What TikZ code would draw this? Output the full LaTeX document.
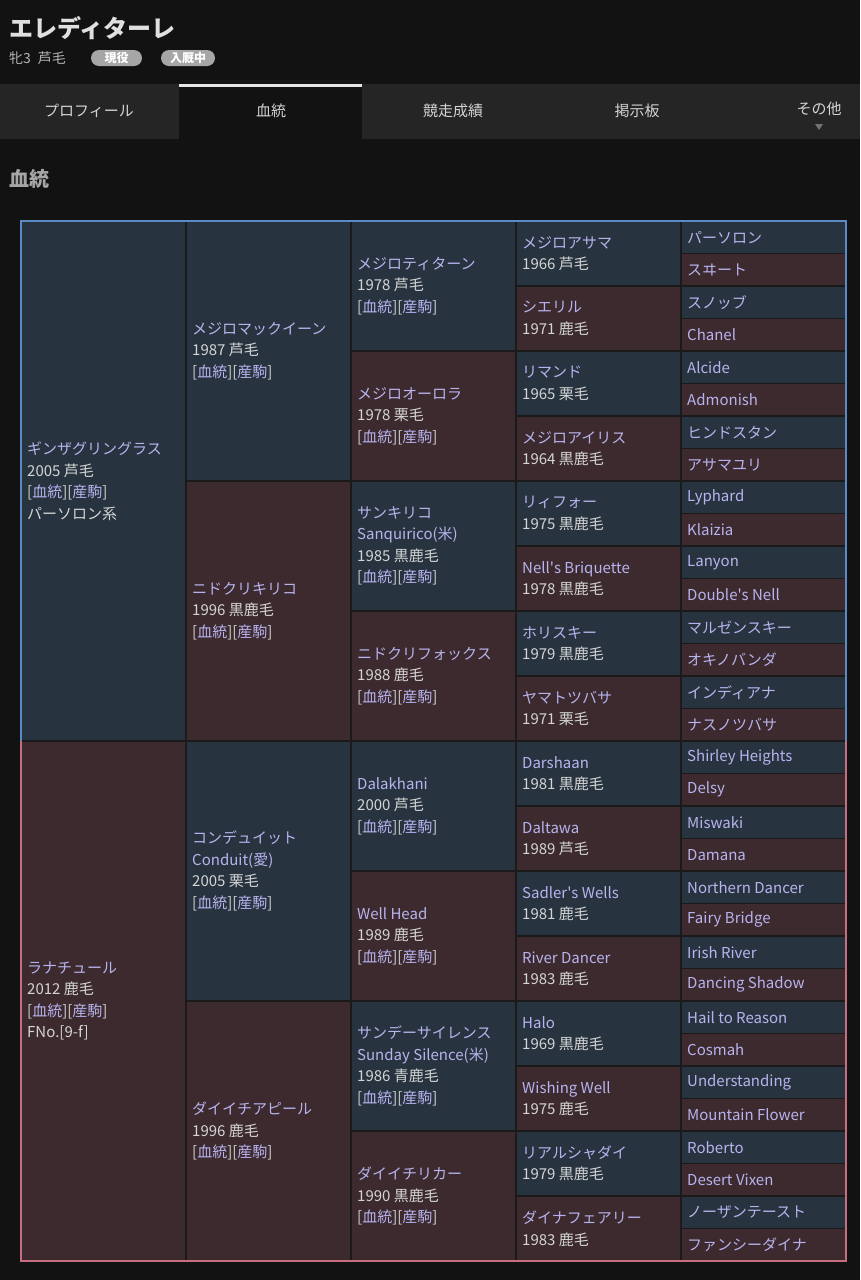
\documentclass[tikz,border=0pt]{standalone}
\usepackage{fontspec}
\setmainfont{Noto Sans CJK JP}
\usetikzlibrary{calc}
\definecolor{pagebg}{HTML}{121212}
\definecolor{tabbg}{HTML}{252525}
\definecolor{sirec}{HTML}{27343F}
\definecolor{damc}{HTML}{3C2A2E}
\definecolor{cellgap}{HTML}{1A1A1A}
\definecolor{namec}{HTML}{B8B3EE}
\definecolor{bodyc}{HTML}{D4D4D4}
\definecolor{sireedge}{HTML}{5A8BC4}
\definecolor{damedge}{HTML}{C46E80}
\def\nm#1{{\color{namec}#1}}
\def\lk{[\nm{血統}][\nm{産駒}]}
\def\pedcell[#1](#2,#3,#4)#5#6{\draw[cellline, fill=#1] (#2,#3) rectangle ++(165,#4);
  \node[celltext] (#5) at (#2+6,#3+#4/2) {#6};}
\tikzset{
  cellline/.style={draw=cellgap, line width=1.6},
  celltext/.style={anchor=west, inner sep=0, align=left, text=bodyc, font=\fontsize{15}{21.5}\selectfont},
  tablabel/.style={text=bodyc, inner sep=0, font=\fontsize{15}{15}\selectfont},
  badge/.style={fill=black!35!white, text=white, rounded corners=8, minimum width=51, minimum height=16, inner sep=0, font=\fontsize{12}{12}\selectfont\bfseries}
}

\begin{document}
\begin{tikzpicture}[x=1pt, y=-1pt]
  %%%%% PAGE %%%%%
  \fill[pagebg] (0,0) rectangle (860,1280);
  \useasboundingbox (0,0) rectangle (860,1280);

  \node[anchor=west, inner sep=0, text=black!12!white, font=\fontsize{24}{24}\selectfont\bfseries] (title) at (9,28) {エレディターレ};
  \node[anchor=west, inner sep=0, text=black!30!white, font=\fontsize{14}{14}\selectfont] (info) at (9,58) {牝3\hspace{7pt}芦毛};
  \node[badge] (active) at (116.5,58) {現役};
  \node[badge, minimum width=54] (stable) at (188,58) {入厩中};

  %%%%% TABS %%%%%
  \fill[tabbg] (0,84) rectangle (860,139);
  \fill[pagebg] (179,84) rectangle (362,139);
  \draw[line width=2.5, color=black!10!white] (179,85.5) -- (362,85.5);
  \node[tablabel] (profile) at (89,111) {プロフィール};
  \node[tablabel] (blood) at (271,111) {血統};
  \node[tablabel] (races) at (453,111) {競走成績};
  \node[tablabel] (board) at (637,111) {掲示板};
  \node[tablabel] (other) at (819,109) {その他};
  \fill[black!55!white] (815,124) -- (823,124) -- (819,130) -- cycle;

  \node[anchor=west, inner sep=0, text=black!35!white, font=\fontsize{20}{20}\selectfont\bfseries] (heading) at (9,179) {血統};

  %%%%% GEN 1 %%%%%
  \pedcell[sirec](21,221,520){s}{\nm{ギンザグリングラス}\\2005 芦毛\\\lk\\パーソロン系}
  \pedcell[damc](21,741,520){d}{\nm{ラナチュール}\\2012 鹿毛\\\lk\\FNo.[9-f]}

  %%%%% GEN 2 %%%%%
  \pedcell[sirec](186,221,260){ss}{\nm{メジロマックイーン}\\1987 芦毛\\\lk}
  \pedcell[damc](186,481,260){sd}{\nm{ニドクリキリコ}\\1996 黒鹿毛\\\lk}
  \pedcell[sirec](186,741,260){ds}{\nm{コンデュイット}\\\nm{Conduit(愛)}\\2005 栗毛\\\lk}
  \pedcell[damc](186,1001,260){dd}{\nm{ダイイチアピール}\\1996 鹿毛\\\lk}

  %%%%% GEN 3 %%%%%
  \pedcell[sirec](351,221,130){sss}{\nm{メジロティターン}\\1978 芦毛\\\lk}
  \pedcell[damc](351,351,130){ssd}{\nm{メジロオーロラ}\\1978 栗毛\\\lk}
  \pedcell[sirec](351,481,130){sds}{\nm{サンキリコ}\\\nm{Sanquirico(米)}\\1985 黒鹿毛\\\lk}
  \pedcell[damc](351,611,130){sdd}{\nm{ニドクリフォックス}\\1988 鹿毛\\\lk}
  \pedcell[sirec](351,741,130){dss}{\nm{Dalakhani}\\2000 芦毛\\\lk}
  \pedcell[damc](351,871,130){dsd}{\nm{Well Head}\\1989 鹿毛\\\lk}
  \pedcell[sirec](351,1001,130){dds}{\nm{サンデーサイレンス}\\\nm{Sunday Silence(米)}\\1986 青鹿毛\\\lk}
  \pedcell[damc](351,1131,130){ddd}{\nm{ダイイチリカー}\\1990 黒鹿毛\\\lk}

  %%%%% GEN 4 %%%%%
  \pedcell[sirec](516,221,65){ssss}{\nm{メジロアサマ}\\1966 芦毛}
  \pedcell[damc](516,286,65){sssd}{\nm{シエリル}\\1971 鹿毛}
  \pedcell[sirec](516,351,65){ssds}{\nm{リマンド}\\1965 栗毛}
  \pedcell[damc](516,416,65){ssdd}{\nm{メジロアイリス}\\1964 黒鹿毛}
  \pedcell[sirec](516,481,65){sdss}{\nm{リィフォー}\\1975 黒鹿毛}
  \pedcell[damc](516,546,65){sdsd}{\nm{Nell\textquotesingle s Briquette}\\1978 黒鹿毛}
  \pedcell[sirec](516,611,65){sdds}{\nm{ホリスキー}\\1979 黒鹿毛}
  \pedcell[damc](516,676,65){sddd}{\nm{ヤマトツバサ}\\1971 栗毛}
  \pedcell[sirec](516,741,65){dsss}{\nm{Darshaan}\\1981 黒鹿毛}
  \pedcell[damc](516,806,65){dssd}{\nm{Daltawa}\\1989 芦毛}
  \pedcell[sirec](516,871,65){dsds}{\nm{Sadler\textquotesingle s Wells}\\1981 鹿毛}
  \pedcell[damc](516,936,65){dsdd}{\nm{River Dancer}\\1983 鹿毛}
  \pedcell[sirec](516,1001,65){ddss}{\nm{Halo}\\1969 黒鹿毛}
  \pedcell[damc](516,1066,65){ddsd}{\nm{Wishing Well}\\1975 鹿毛}
  \pedcell[sirec](516,1131,65){ddds}{\nm{リアルシャダイ}\\1979 黒鹿毛}
  \pedcell[damc](516,1196,65){dddd}{\nm{ダイナフェアリー}\\1983 鹿毛}

  %%%%% GEN 5 %%%%%
  \pedcell[sirec](681,221,32.5){sssss}{\nm{パーソロン}}
  \pedcell[damc](681,253.5,32.5){ssssd}{\nm{スヰート}}
  \pedcell[sirec](681,286,32.5){sssds}{\nm{スノッブ}}
  \pedcell[damc](681,318.5,32.5){sssdd}{\nm{Chanel}}
  \pedcell[sirec](681,351,32.5){ssdss}{\nm{Alcide}}
  \pedcell[damc](681,383.5,32.5){ssdsd}{\nm{Admonish}}
  \pedcell[sirec](681,416,32.5){ssdds}{\nm{ヒンドスタン}}
  \pedcell[damc](681,448.5,32.5){ssddd}{\nm{アサマユリ}}
  \pedcell[sirec](681,481,32.5){sdsss}{\nm{Lyphard}}
  \pedcell[damc](681,513.5,32.5){sdssd}{\nm{Klaizia}}
  \pedcell[sirec](681,546,32.5){sdsds}{\nm{Lanyon}}
  \pedcell[damc](681,578.5,32.5){sdsdd}{\nm{Double\textquotesingle s Nell}}
  \pedcell[sirec](681,611,32.5){sddss}{\nm{マルゼンスキー}}
  \pedcell[damc](681,643.5,32.5){sddsd}{\nm{オキノバンダ}}
  \pedcell[sirec](681,676,32.5){sddds}{\nm{インディアナ}}
  \pedcell[damc](681,708.5,32.5){sdddd}{\nm{ナスノツバサ}}
  \pedcell[sirec](681,741,32.5){dssss}{\nm{Shirley Heights}}
  \pedcell[damc](681,773.5,32.5){dsssd}{\nm{Delsy}}
  \pedcell[sirec](681,806,32.5){dssds}{\nm{Miswaki}}
  \pedcell[damc](681,838.5,32.5){dssdd}{\nm{Damana}}
  \pedcell[sirec](681,871,32.5){dsdss}{\nm{Northern Dancer}}
  \pedcell[damc](681,903.5,32.5){dsdsd}{\nm{Fairy Bridge}}
  \pedcell[sirec](681,936,32.5){dsdds}{\nm{Irish River}}
  \pedcell[damc](681,968.5,32.5){dsddd}{\nm{Dancing Shadow}}
  \pedcell[sirec](681,1001,32.5){ddsss}{\nm{Hail to Reason}}
  \pedcell[damc](681,1033.5,32.5){ddssd}{\nm{Cosmah}}
  \pedcell[sirec](681,1066,32.5){ddsds}{\nm{Understanding}}
  \pedcell[damc](681,1098.5,32.5){ddsdd}{\nm{Mountain Flower}}
  \pedcell[sirec](681,1131,32.5){dddss}{\nm{Roberto}}
  \pedcell[damc](681,1163.5,32.5){dddsd}{\nm{Desert Vixen}}
  \pedcell[sirec](681,1196,32.5){dddds}{\nm{ノーザンテースト}}
  \pedcell[damc](681,1228.5,32.5){ddddd}{\nm{ファンシーダイナ}}

  %%%%% OUTER EDGE %%%%%
  \draw[line width=1.2, color=sireedge] (21,741) -- (21,221) -- (846,221) -- (846,741);
  \draw[line width=1.2, color=damedge] (21,741) -- (21,1261) -- (846,1261) -- (846,741);
\end{tikzpicture}
\end{document}
